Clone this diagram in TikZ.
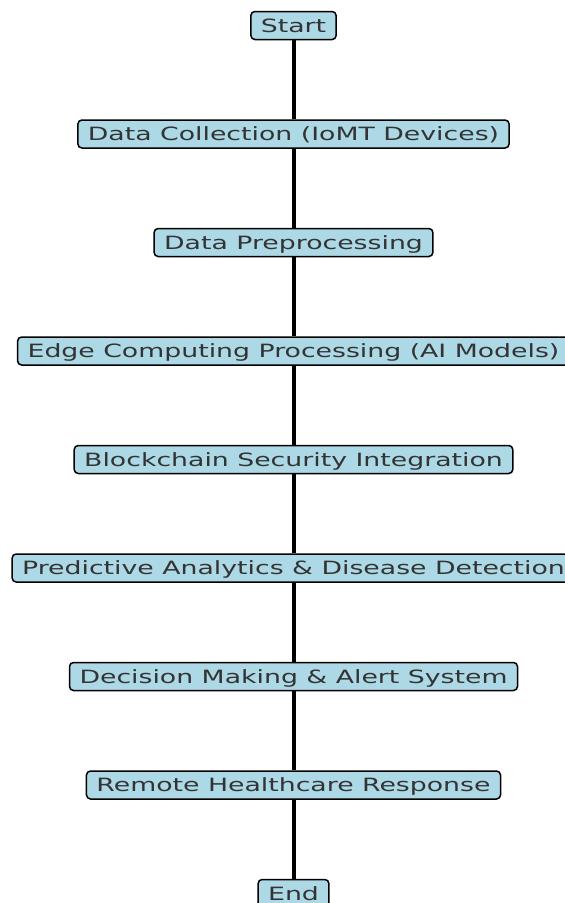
\documentclass[tikz,border=0pt]{standalone}
\usepackage{fontspec}
\setmainfont{DejaVu Sans}[FakeStretch=1.46]
\definecolor{stagefill}{RGB}{173,216,230}

\begin{document}
\begin{tikzpicture}[x=1pt,y=1pt,
        stage/.style={draw=black,line width=1.5pt,fill=stagefill,rounded corners=4pt,
            minimum height=28pt,inner xsep=10pt,inner ysep=0pt,
            text height=13.3pt,text depth=0pt,text=black!80,
            font=\fontsize{18.3}{20}\selectfont},
        flow/.style={line width=4pt}]
            \useasboundingbox (0,0) rectangle (565,-903);
            % the stages, one below the other
            \node[stage] (start) at (293.5,-25.5) {Start};
            \node[stage] (collect) at (293.5,-134) {Data Collection (IoMT Devices)};
            \node[stage] (prep) at (293.5,-242.5) {Data Preprocessing};
            \node[stage] (edge) at (293.5,-351) {Edge Computing Processing (AI Models)};
            \node[stage] (chain) at (293.5,-459.5) {Blockchain Security Integration};
            \node[stage] (predict) at (293.5,-568) {Predictive Analytics \& Disease Detection};
            \node[stage] (alert) at (293.5,-676.5) {Decision Making \& Alert System};
            \node[stage] (remote) at (293.5,-785) {Remote Healthcare Response};
            \node[stage] (end) at (293.5,-893.5) {End};
            % connecting lines
            \draw[flow] (start) -- (collect);
            \draw[flow] (collect) -- (prep);
            \draw[flow] (prep) -- (edge);
            \draw[flow] (edge) -- (chain);
            \draw[flow] (chain) -- (predict);
            \draw[flow] (predict) -- (alert);
            \draw[flow] (alert) -- (remote);
            \draw[flow] (remote) -- (end);
        \end{tikzpicture}
\end{document}
